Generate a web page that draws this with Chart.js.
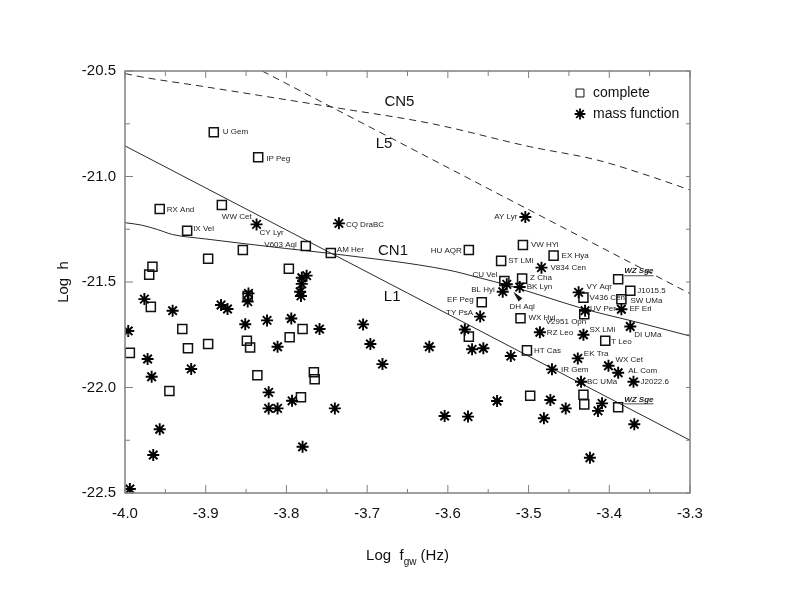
<!DOCTYPE html>
<html>
<head>
<meta charset="utf-8">
<script src="https://cdn.jsdelivr.net/npm/chart.js@4.4.1/dist/chart.umd.min.js"></script>
<style>
  html, body { margin: 0; padding: 0; background: #fff; }
</style>
</head>
<body>
<canvas id="gwChart" width="785" height="589"></canvas>
<script>
// Systems with complete solutions (squares)
const completeNames = ['U Gem', 'IP Peg', 'RX And', 'WW Cet', 'IX Vel', 'V603 Aql', 'AM Her', '', '', '',
  '', '', '', '', '', '', '', '', '', '',
  '', '', '', '', '', '', '', 'HU AQR', 'VW HYi', 'ST LMi',
  'EX Hya', 'Z Cha', 'CU Vel', 'EF Peg', 'WX Hyi', 'WZ Sge', 'J1015.5', 'SW UMa', 'V436 Cen', 'V2951 Oph',
  '', 'HT Cas', 'T Leo', '', '', '', 'WZ Sge'];
const completeX = [-3.890, -3.835, -3.957, -3.880, -3.923, -3.776, -3.745, -3.854, -3.897, -3.966,
  -3.970, -3.797, -3.968, -3.994, -3.929, -3.922, -3.897, -3.848, -3.849, -3.845,
  -3.796, -3.780, -3.945, -3.836, -3.766, -3.765, -3.782, -3.574, -3.507, -3.534,
  -3.469, -3.508, -3.530, -3.558, -3.510, -3.389, -3.374, -3.385, -3.432, -3.431,
  -3.574, -3.502, -3.405, -3.498, -3.432, -3.431, -3.389];
const completeY = [-20.790, -20.909, -21.154, -21.135, -21.257, -21.329, -21.363, -21.348, -21.390, -21.428,
  -21.465, -21.437, -21.618, -21.836, -21.723, -21.814, -21.794, -21.566, -21.778, -21.810,
  -21.762, -21.723, -22.017, -21.942, -21.928, -21.961, -22.046, -21.348, -21.325, -21.400,
  -21.375, -21.484, -21.495, -21.596, -21.672, -21.487, -21.541, -21.582, -21.574, -21.653,
  -21.759, -21.824, -21.778, -22.039, -22.034, -22.080, -22.094];

// Systems from the mass function (asterisks)
const massNames = ['CY Lyr', 'CQ DraBC', 'AY Lyr', 'V834 Cen', '', 'BK Lyn', 'BL Hyi', 'VY Aqr', 'UV Per', 'EF Eri',
  'DI UMa', 'TY PsA', '', 'RZ Leo', 'SX LMi', '', '', '', 'EK Tra', 'WX Cet',
  'IR Gem', 'AL Com', 'BC UMa', 'J2022.6', '', '', '', '', '', '',
  '', '', '', '', '', '', '', '', '', '',
  '', '', '', '', '', '', '', '', '', '',
  '', '', '', '', '', '', '', '', '', '',
  '', '', '', '', '', '', ''];
const massX = [-3.837, -3.735, -3.504, -3.484, -3.527, -3.511, -3.532, -3.438, -3.430, -3.385,
  -3.374, -3.560, -3.579, -3.486, -3.432, -3.556, -3.570, -3.522, -3.439, -3.401,
  -3.471, -3.389, -3.435, -3.370, -3.539, -3.473, -3.454, -3.409, -3.414, -3.481,
  -3.369, -3.424, -3.604, -3.575, -3.740, -3.705, -3.696, -3.681, -3.623, -3.759,
  -3.781, -3.775, -3.781, -3.783, -3.782, -3.847, -3.848, -3.976, -3.941, -3.881,
  -3.873, -3.824, -3.794, -3.851, -3.996, -3.811, -3.972, -3.967, -3.918, -3.822,
  -3.822, -3.811, -3.793, -3.957, -3.965, -3.780, -3.994];
const massY = [-21.227, -21.222, -21.192, -21.432, -21.511, -21.524, -21.546, -21.549, -21.636, -21.629,
  -21.711, -21.664, -21.725, -21.738, -21.750, -21.814, -21.819, -21.851, -21.862, -21.897,
  -21.914, -21.930, -21.973, -21.973, -22.064, -22.059, -22.099, -22.075, -22.111, -22.146,
  -22.174, -22.333, -22.135, -22.138, -22.099, -21.701, -21.794, -21.889, -21.807, -21.723,
  -21.480, -21.470, -21.509, -21.546, -21.566, -21.554, -21.593, -21.581, -21.636, -21.609,
  -21.628, -21.682, -21.673, -21.700, -21.732, -21.807, -21.865, -21.949, -21.912, -22.023,
  -22.099, -22.099, -22.063, -22.198, -22.320, -22.281, -22.481];

// Reference curves
const l1X = [-4.0, -3.3];
const l1Y = [-20.855, -22.25];
const cn1X = [-4.0, -3.980, -3.960, -3.941, -3.900, -3.801, -3.745, -3.600, -3.560, -3.527, -3.486, -3.431, -3.362, -3.3];
const cn1Y = [-21.219, -21.230, -21.251, -21.275, -21.296, -21.341, -21.365, -21.443, -21.481, -21.514, -21.562, -21.628, -21.694, -21.756];
const cn5X = [-4.0, -3.981, -3.907, -3.833, -3.737, -3.622, -3.498, -3.415, -3.350, -3.3];
const cn5Y = [-20.512, -20.527, -20.571, -20.616, -20.675, -20.748, -20.859, -20.922, -20.998, -21.064];
const l5X = [-3.83, -3.3];
const l5Y = [-20.5, -21.555];

const curveNames = ['CN5', 'L5', 'CN1', 'L1'];
const curveNameX = [-3.660, -3.679, -3.668, -3.669];
const curveNameY = [-20.648, -20.843, -21.352, -21.570];

// DH Aql is marked with an arrow
const dhArrowX = [-3.510, -3.519];
const dhArrowY = [-21.585, -21.546];
const dhTextX = -3.508;
const dhTextY = -21.618;

const xTickValues = [-4.0, -3.9, -3.8, -3.7, -3.6, -3.5, -3.4, -3.3];
const yTickValues = [-22.5, -22.0, -21.5, -21.0, -20.5];

const FONT = "'Liberation Sans', Arial, Helvetica, sans-serif";

// label offsets in px from the marker: [dx, dy, align]
const labelOffsets = {
  'U Gem': [9, 0, 'left'], 'IP Peg': [8, 1, 'left'], 'RX And': [7, 1, 'left'],
  'WW Cet': [0, 12, 'left'], 'IX Vel': [6, -2, 'left'], 'V603 Aql': [-9, -1, 'right'],
  'AM Her': [6, -3, 'left'], 'HU AQR': [-7, 1, 'right'], 'VW HYi': [8, 0, 'left'],
  'EX Hya': [8, 0, 'left'], 'ST LMi': [7, 0, 'left'], 'CU Vel': [-7, -6, 'right'],
  'Z Cha': [8, -1, 'left'], 'EF Peg': [-8, -2, 'right'], 'WX Hyi': [8, 0, 'left'],
  'WZ Sge': [6, -8, 'left'], 'J1015.5': [7, 0, 'left'], 'SW UMa': [9, 1, 'left'],
  'V436 Cen': [6, 0, 'left'], 'V2951 Oph': [2, 8, 'right'], 'HT Cas': [7, 0, 'left'],
  'T Leo': [6, 1, 'left'], 'CY Lyr': [3, 8, 'left'], 'CQ DraBC': [7, 1, 'left'],
  'AY Lyr': [-8, 0, 'right'], 'V834 Cen': [9, 0, 'left'], 'BK Lyn': [7, 0, 'left'],
  'BL Hyi': [-8, -2, 'right'], 'VY Aqr': [8, -6, 'left'], 'UV Per': [5, -2, 'left'],
  'EF Eri': [8, 0, 'left'], 'DI UMa': [4, 8, 'left'], 'TY PsA': [-7, -4, 'right'],
  'RZ Leo': [7, 1, 'left'], 'SX LMi': [6, -5, 'left'], 'EK Tra': [6, -5, 'left'],
  'WX Cet': [7, -6, 'left'], 'IR Gem': [9, 0, 'left'], 'AL Com': [10, -2, 'left'],
  'BC UMa': [6, 0, 'left'], 'J2022.6': [7, 0, 'left']
};

function toPoints(xs, ys) {
  return xs.map((v, i) => ({ x: v, y: ys[i] }));
}

const decorPlugin = {
  id: 'decor',
  afterDatasetsDraw(chart) {
    const { ctx, scales: { x, y } } = chart;
    ctx.save();
    ctx.textBaseline = 'middle';

    // star names
    [[0, completeNames], [1, massNames]].forEach(([di, names]) => {
      chart.getDatasetMeta(di).data.forEach((pt, i) => {
        const name = names[i];
        if (!name) return;
        const off = labelOffsets[name] || [7, 0, 'left'];
        const special = name === 'WZ Sge';
        ctx.font = (special ? 'italic bold ' : '') + '8px ' + FONT;
        ctx.fillStyle = '#222';
        ctx.textAlign = off[2];
        const tx = pt.x + off[0], ty = pt.y + off[1];
        ctx.fillText(name, tx, ty);
        if (special) {
          const w = ctx.measureText(name).width;
          ctx.strokeStyle = '#222';
          ctx.lineWidth = 0.8;
          ctx.beginPath();
          ctx.moveTo(tx, ty + 4.5);
          ctx.lineTo(tx + w, ty + 4.5);
          ctx.stroke();
        }
      });
    });

    // DH Aql arrow
    const ax0 = x.getPixelForValue(dhArrowX[0]), ay0 = y.getPixelForValue(dhArrowY[0]);
    const ax1 = x.getPixelForValue(dhArrowX[1]), ay1 = y.getPixelForValue(dhArrowY[1]);
    const ang = Math.atan2(ay1 - ay0, ax1 - ax0);
    const nx = -Math.sin(ang) * 2.5, ny = Math.cos(ang) * 2.5;
    ctx.fillStyle = '#111';
    ctx.beginPath();
    ctx.moveTo(ax1, ay1);
    ctx.lineTo(ax0 + nx, ay0 + ny);
    ctx.lineTo(ax0 - nx, ay0 - ny);
    ctx.closePath();
    ctx.fill();
    ctx.font = '8px ' + FONT;
    ctx.fillStyle = '#222';
    ctx.textAlign = 'center';
    ctx.fillText('DH Aql', x.getPixelForValue(dhTextX), y.getPixelForValue(dhTextY));

    // curve names
    ctx.font = '15px ' + FONT;
    ctx.fillStyle = '#111';
    curveNames.forEach((t, i) => {
      ctx.fillText(t, x.getPixelForValue(curveNameX[i]), y.getPixelForValue(curveNameY[i]));
    });
    ctx.restore();
  },
  afterDraw(chart) {
    const { ctx, chartArea: a, scales: { x, y } } = chart;
    ctx.save();

    // frame and inward ticks
    ctx.strokeStyle = '#808080';
    ctx.lineWidth = 1.5;
    ctx.strokeRect(a.left, a.top, a.right - a.left, a.bottom - a.top);
    ctx.lineWidth = 1;
    ctx.beginPath();
    xTickValues.forEach((v, i) => {
      const px = x.getPixelForValue(v);
      ctx.moveTo(px, a.bottom); ctx.lineTo(px, a.bottom - 8);
      ctx.moveTo(px, a.top); ctx.lineTo(px, a.top + 7);
      if (i < xTickValues.length - 1) {
        const mx = x.getPixelForValue((v + xTickValues[i + 1]) / 2);
        ctx.moveTo(mx, a.bottom); ctx.lineTo(mx, a.bottom - 4);
        ctx.moveTo(mx, a.top); ctx.lineTo(mx, a.top + 5);
      }
    });
    yTickValues.forEach((v, i) => {
      const py = y.getPixelForValue(v);
      ctx.moveTo(a.left, py); ctx.lineTo(a.left + 8, py);
      ctx.moveTo(a.right, py); ctx.lineTo(a.right - 4, py);
      if (i < yTickValues.length - 1) {
        const my = y.getPixelForValue((v + yTickValues[i + 1]) / 2);
        ctx.moveTo(a.left, my); ctx.lineTo(a.left + 5, my);
        ctx.moveTo(a.right, my); ctx.lineTo(a.right - 4, my);
      }
    });
    ctx.stroke();

    // legend
    const lx = a.right - 110;
    ctx.strokeStyle = '#111';
    ctx.fillStyle = 'rgba(0,0,0,0)';
    Chart.helpers.drawPoint(ctx, { pointStyle: 'rect', radius: 5.6, borderWidth: 1.4, rotation: 0 }, lx, a.top + 22);
    ctx.strokeStyle = '#000';
    ctx.lineWidth = 1.8;
    Chart.helpers.drawPoint(ctx, { pointStyle: 'star', radius: 5.4, borderWidth: 1.8, rotation: 0 }, lx, a.top + 43);
    ctx.fillStyle = '#111';
    ctx.font = '14px ' + FONT;
    ctx.textAlign = 'left';
    ctx.textBaseline = 'middle';
    ctx.fillText('complete', lx + 13, a.top + 22);
    ctx.fillText('mass function', lx + 13, a.top + 43);

    // axis titles
    ctx.font = '15px ' + FONT;
    ctx.save();
    ctx.translate(64, (a.top + a.bottom) / 2);
    ctx.rotate(-Math.PI / 2);
    ctx.textAlign = 'center';
    ctx.fillText('Log  h', 0, 0);
    ctx.restore();

    const main = 'Log  f';
    const sub = 'gw';
    const tail = ' (Hz)';
    ctx.font = '15px ' + FONT;
    const w1 = ctx.measureText(main).width, w3 = ctx.measureText(tail).width;
    ctx.font = '10px ' + FONT;
    const w2 = ctx.measureText(sub).width;
    let tx = (a.left + a.right) / 2 - (w1 + w2 + w3) / 2;
    const ty = 556;
    ctx.textAlign = 'left';
    ctx.font = '15px ' + FONT;
    ctx.fillText(main, tx, ty);
    tx += w1;
    ctx.font = '10px ' + FONT;
    ctx.fillText(sub, tx, ty + 6);
    tx += w2;
    ctx.font = '15px ' + FONT;
    ctx.fillText(tail, tx, ty);
    ctx.restore();
  }
};

const lineStyle = { showLine: true, pointRadius: 0, fill: false, borderColor: '#2a2a2a', borderWidth: 1 };

new Chart(document.getElementById('gwChart'), {
  type: 'scatter',
  data: {
    datasets: [
      {
        label: 'complete', data: toPoints(completeX, completeY),
        pointStyle: 'rect', pointRadius: 6.4, pointBorderWidth: 1.5,
        pointBorderColor: '#111', pointBackgroundColor: 'rgba(0,0,0,0)', order: 1
      },
      {
        label: 'mass function', data: toPoints(massX, massY),
        pointStyle: 'star', pointRadius: 6, pointBorderWidth: 1.9,
        pointBorderColor: '#000', pointBackgroundColor: '#000', order: 0
      },
      Object.assign({ label: 'L1', data: toPoints(l1X, l1Y), order: 5 }, lineStyle),
      Object.assign({ label: 'CN1', data: toPoints(cn1X, cn1Y), cubicInterpolationMode: 'monotone', order: 5 }, lineStyle),
      Object.assign({ label: 'CN5', data: toPoints(cn5X, cn5Y), cubicInterpolationMode: 'monotone', borderDash: [7, 5], order: 5 }, lineStyle),
      Object.assign({ label: 'L5', data: toPoints(l5X, l5Y), borderDash: [7, 5], order: 5 }, lineStyle)
    ]
  },
  options: {
    responsive: false,
    animation: false,
    events: [],
    layout: { padding: { top: 71, right: 95, left: 0, bottom: 0 } },
    plugins: { legend: { display: false }, tooltip: { enabled: false } },
    scales: {
      x: {
        type: 'linear', min: -4.0, max: -3.3,
        afterBuildTicks: s => { s.ticks = xTickValues.map(v => ({ value: v })); },
        afterFit: s => { s.height = 96; },
        grid: { display: false, drawTicks: false },
        border: { display: false },
        ticks: { padding: 12, autoSkip: false, maxRotation: 0, color: '#111', font: { family: FONT, size: 15 }, callback: v => v.toFixed(1) }
      },
      y: {
        type: 'linear', min: -22.5, max: -20.5,
        afterBuildTicks: s => { s.ticks = yTickValues.map(v => ({ value: v })); },
        afterFit: s => { s.width = 125; },
        grid: { display: false, drawTicks: false },
        border: { display: false },
        ticks: { padding: 9, color: '#111', font: { family: FONT, size: 15 }, callback: v => v.toFixed(1) }
      }
    }
  },
  plugins: [decorPlugin]
});
</script>
</body>
</html>
